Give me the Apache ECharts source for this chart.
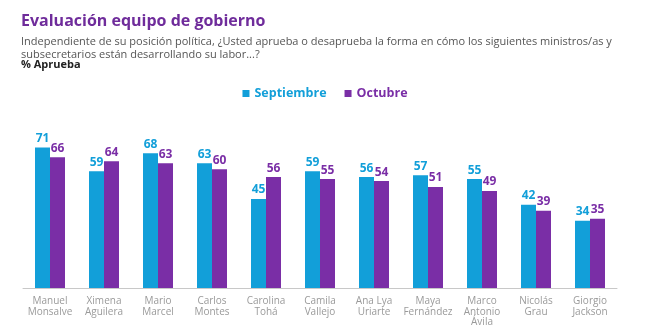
<!DOCTYPE html>
<html><head><meta charset="utf-8">
<script src="https://cdn.jsdelivr.net/npm/echarts@6/dist/echarts.min.js"></script>
<style>html,body{margin:0;padding:0;background:#fff}#c{width:650px;height:333px}</style>
</head><body><div id="c"></div>
<script>
const categories = ["Manuel\nMonsalve","Ximena\nAguilera","Mario\nMarcel","Carlos\nMontes","Carolina\nTohá","Camila\nVallejo","Ana Lya\nUriarte","Maya\nFernández","Marco\nAntonio\nÁvila","Nicolás\nGrau","Giorgio\nJackson"];
const septiembre = [71,59,68,63,45,59,56,57,55,42,34];
const octubre = [66,64,63,60,56,55,54,51,49,39,35];
const FONT = "'Open Sans', 'Noto Sans', sans-serif";
const BLUE = "#129fd9", PURPLE = "#7a2ea6";
const chart = echarts.init(document.getElementById('c'));
chart.setOption({
  animation:false,
  textStyle:{fontFamily:FONT},
  title:[
    {text:"Evaluación equipo de gobierno",left:21,top:11,padding:0,textStyle:{fontFamily:FONT,fontSize:16,fontWeight:'bold',color:'#6f2c9b',lineHeight:20}},
    {text:"Independiente de su posición política, ¿Usted aprueba o desaprueba la forma en cómo los siguientes ministros/as y\nsubsecretarios están desarrollando su labor...?",left:21,top:36,padding:0,textStyle:{fontFamily:FONT,fontSize:11,fontWeight:'normal',color:'#555',lineHeight:12.5}},
    {text:"% Aprueba",left:21,top:59,padding:0,textStyle:{fontFamily:FONT,fontSize:11,fontWeight:'bold',color:'#222',lineHeight:12}}
  ],
  legend:{top:87,left:'center',padding:0,itemWidth:7,itemHeight:7,itemGap:18,icon:'rect',
    data:[{name:'Septiembre',textStyle:{color:BLUE}},{name:'Octubre',textStyle:{color:PURPLE}}],
    textStyle:{fontFamily:FONT,fontSize:12.5,fontWeight:'bold'}},
  grid:{left:23,right:33,top:90,bottom:45,containLabel:false},
  xAxis:{type:'category',data:categories,
    axisLine:{lineStyle:{color:'#c8c8c8'}},
    axisTick:{length:4,lineStyle:{color:'#c8c8c8'}},
    axisLabel:{color:'#9a9a9a',fontSize:10,lineHeight:10.5,margin:8,interval:0,fontFamily:FONT}},
  yAxis:{type:'value',min:0,max:100,show:false,splitLine:{show:false}},
  series:[
    {name:'Septiembre',type:'bar',data:septiembre,barWidth:15,barGap:'0%',itemStyle:{color:BLUE},
      label:{show:true,position:'top',distance:3,color:BLUE,fontWeight:'bold',fontSize:12,fontFamily:FONT}},
    {name:'Octubre',type:'bar',data:octubre,barWidth:15,barGap:'0%',itemStyle:{color:PURPLE},
      label:{show:true,position:'top',distance:3,color:PURPLE,fontWeight:'bold',fontSize:12,fontFamily:FONT}}
  ]
});
</script></body></html>
